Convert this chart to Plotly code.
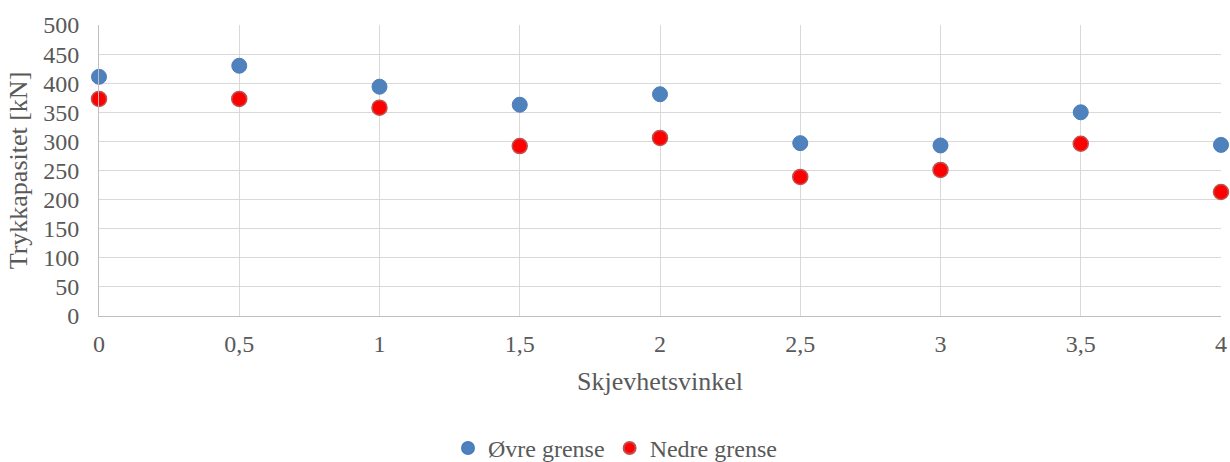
import plotly.graph_objects as go

x_vals = [0, 0.5, 1, 1.5, 2, 2.5, 3, 3.5, 4]
ovre = [411, 430, 394, 363, 381, 297, 293, 350, 294]
nedre = [373, 373, 358, 292, 306, 239, 251, 296, 213]
x_ticks = [0, 0.5, 1, 1.5, 2, 2.5, 3, 3.5, 4]
x_ticktext = ["0", "0,5", "1", "1,5", "2", "2,5", "3", "3,5", "4"]
y_ticks = list(range(0, 501, 50))

font_family = "Liberation Serif, Times New Roman, serif"
text_color = "#595959"

fig = go.Figure()
fig.add_trace(go.Scatter(
    x=x_vals, y=ovre, mode="markers", name="Øvre grense",
    marker=dict(size=15, color="#4F81BD", line=dict(color="#4A7EBB", width=1)),
    cliponaxis=False,
))
fig.add_trace(go.Scatter(
    x=x_vals, y=nedre, mode="markers", name="Nedre grense",
    marker=dict(size=15, color="#FF0000", line=dict(color="#C0504D", width=1.5)),
    cliponaxis=False,
))

fig.update_layout(
    width=1230, height=462,
    margin=dict(l=99, r=9, t=25, b=146, autoexpand=False),
    paper_bgcolor="white", plot_bgcolor="white",
    font=dict(family=font_family, color=text_color, size=24),
    showlegend=True,
    legend=dict(orientation="h", xref="container", x=0.5, xanchor="center",
                y=-0.455, yanchor="middle",
                font=dict(size=24, color=text_color), itemsizing="constant",
                itemwidth=30, bgcolor="rgba(0,0,0,0)"),
)
fig.update_xaxes(
    range=[0, 4], tickvals=x_ticks, ticktext=x_ticktext,
    showgrid=True, gridcolor="#D9D9D9", gridwidth=1,
    showline=True, linecolor="#BFBFBF", linewidth=1, mirror=False,
    zeroline=False, ticks="", ticklabelstandoff=6,
    tickfont=dict(size=24, color=text_color),
    title=dict(text="Skjevhetsvinkel", font=dict(size=26, color=text_color), standoff=16),
)
fig.update_yaxes(
    range=[0, 500], tickvals=y_ticks,
    showgrid=True, gridcolor="#D9D9D9", gridwidth=1,
    showline=True, linecolor="#BFBFBF", linewidth=1,
    zeroline=False, ticks="", ticklabelstandoff=14,
    tickfont=dict(size=24, color=text_color),
    title=dict(text="Trykkapasitet [kN]", font=dict(size=26, color=text_color), standoff=8),
)

fig.write_html("out.html")
